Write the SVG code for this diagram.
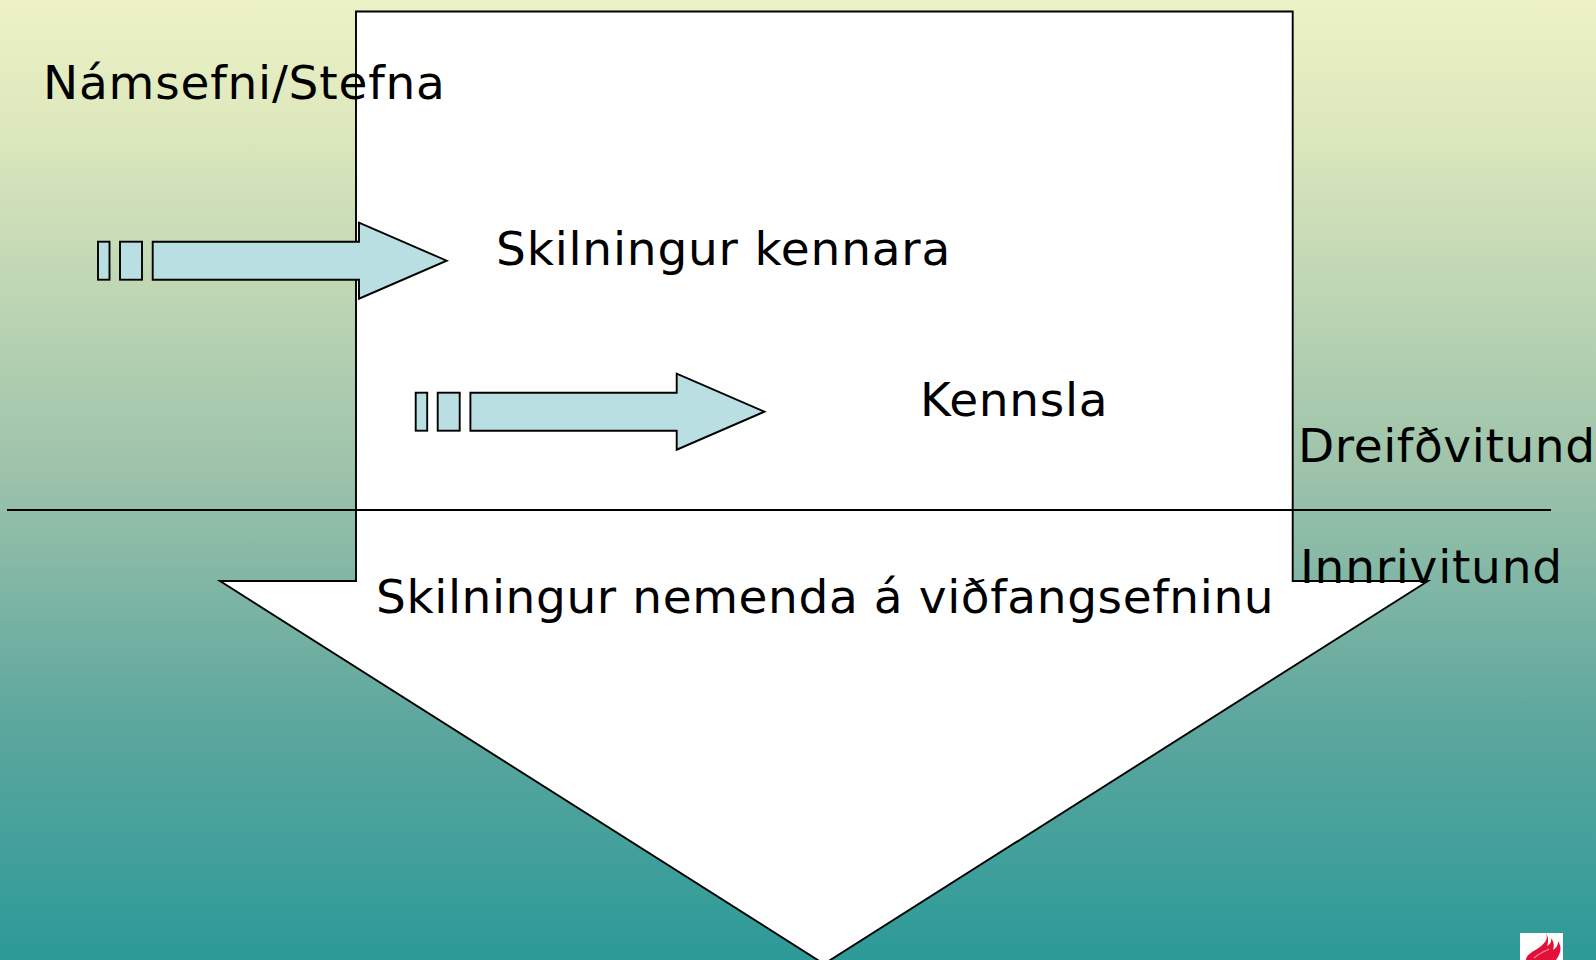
<svg xmlns="http://www.w3.org/2000/svg" width="1596" height="960" viewBox="0 0 1596 960">
<style>
.s{stroke:#000;stroke-width:1.9;stroke-linejoin:miter}
.a{fill:#b9dfe3}
text{font-family:"DejaVu Sans",Verdana,sans-serif;font-size:47px;fill:#000;letter-spacing:.8px}
</style>
<defs>
<linearGradient id="bg" x1="0" y1="0" x2="0" y2="1">
<stop offset="0" stop-color="#ecf2c6"/>
<stop offset="0.12" stop-color="#dfe9bd"/>
<stop offset="0.5" stop-color="#9bc2aa"/>
<stop offset="0.75" stop-color="#5da79e"/>
<stop offset="1" stop-color="#2c9a98"/>
</linearGradient>
<g id="arrow">
<rect class="s a" x="98" y="241.7" width="11.5" height="38"/>
<rect class="s a" x="120" y="241.7" width="22" height="38"/>
<path class="s a" d="M152.7 241.7H359V222.7L446.7 260.7L359 298.7V279.7H152.7Z"/>
</g>
</defs>
<rect id="background" width="1596" height="960" fill="url(#bg)"/>
<g id="big-arrow"><path class="s" fill="#fff" d="M356 11.5H1292.7V581H1428L824 964L220 581H356Z"/></g>
<g id="connectors"><line class="s" x1="7" y1="510" x2="1551" y2="510"/></g>
<g id="arrow-1"><use href="#arrow"/></g>
<g id="arrow-2"><use href="#arrow" x="317.7" y="151"/></g>
<g id="labels">
<text x="43" y="99">Námsefni/Stefna</text>
<text x="496" y="265">Skilningur kennara</text>
<text x="920" y="416" style="letter-spacing:.7px">Kennsla</text>
<text x="1298" y="462" style="letter-spacing:.6px">Dreifðvitund</text>
<text x="1300" y="583" style="letter-spacing:.75px">Innrivitund</text>
<text x="376" y="613" style="letter-spacing:.6px">Skilningur nemenda á viðfangsefninu</text>
</g>
<g id="logo">
<rect x="1520" y="933" width="43" height="27" fill="#fff"/>
<path d="M1546 933C1549 940 1544 944 1537 949C1530 953 1526 956 1526 960H1556C1561 953 1562 947 1558 941C1558 946 1556 948 1553 950C1555 944 1553 941 1551 938C1552 943 1549 945 1547 946C1549 941 1548 936 1546 933Z" fill="#e3103a"/>
<path d="M1534 958C1538 954 1543 952 1549 949" fill="none" stroke="#f28a9c" stroke-width="1.2"/>
</g>
</svg>
